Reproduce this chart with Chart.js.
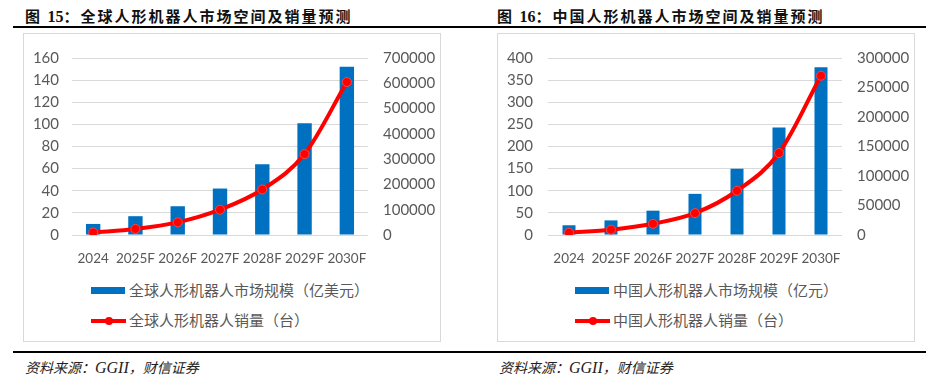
<!DOCTYPE html>
<html>
<head>
<meta charset="utf-8">
<script src="https://cdn.jsdelivr.net/npm/chart.js@4.4.1/dist/chart.umd.min.js"></script>
<style>
  body { margin: 0; width: 935px; height: 384px; background: #fff; position: relative; overflow: hidden;
         font-family: "Noto Sans CJK SC", sans-serif; }
  .title { position: absolute; top: 5px; font-size: 15px; font-weight: 700; color: #111; letter-spacing: 2px; white-space: nowrap; }
  .title b { font-family: "Liberation Serif", serif; font-size: 16px; letter-spacing: 0; }
  .rule { position: absolute; left: 13px; width: 913px; height: 2px; background: #000; }
  .box { position: absolute; top: 33px; width: 416px; height: 307px; border: 1px solid #d9d9d9; }
  .box canvas { position: absolute; left: 0; top: 0; }
  .leg { position: absolute; font-size: 15px; color: #595959; white-space: nowrap; line-height: 18px; }
  .sw-bar { display: inline-block; width: 34px; height: 7px; background: #0070C0; vertical-align: middle; margin-right: 4px; position: relative; top: -1px; }
  .sw-line { display: inline-block; width: 35px; height: 4px; background: #FF0000; vertical-align: middle; margin-right: 3px; position: relative; top: -1px; }
  .sw-line::after { content: ""; position: absolute; left: 14px; top: -2px; width: 8px; height: 8px; border-radius: 50%; background: #FF0000; }
  .src { position: absolute; top: 357px; font-size: 14px; font-style: italic; color: #222; white-space: nowrap; }
  .src i { font-family: "Liberation Serif", serif; font-size: 16px; }
</style>
</head>
<body>
<div class="title" style="left:25px">图 <b>15</b>：全球人形机器人市场空间及销量预测</div>
<div class="title" style="left:497px">图 <b>16</b>：中国人形机器人市场空间及销量预测</div>
<div class="rule" style="top:26px"></div>

<div class="box" style="left:23px">
  <canvas id="c1" width="416" height="240"></canvas>
  <div class="leg" style="left:67px;top:247px"><span class="sw-bar"></span>全球人形机器人市场规模（亿美元）</div>
  <div class="leg" style="left:67px;top:277px"><span class="sw-line"></span>全球人形机器人销量（台）</div>
</div>
<div class="box" style="left:497px">
  <canvas id="c2" width="416" height="240"></canvas>
  <div class="leg" style="left:77px;top:247px"><span class="sw-bar"></span>中国人形机器人市场规模（亿元）</div>
  <div class="leg" style="left:77px;top:277px"><span class="sw-line"></span>中国人形机器人销量（台）</div>
</div>

<div class="rule" style="top:351px"></div>
<div class="src" style="left:25px">资料来源：<i>GGII</i>，财信证券</div>
<div class="src" style="left:499px">资料来源：<i>GGII</i>，财信证券</div>

<script>
const years = ['2024', '2025F', '2026F', '2027F', '2028F', '2029F', '2030F'];

// 全球
const globalMarket = [10, 17, 26, 42, 64, 101, 152];
const globalSales = [10000, 24000, 50000, 100000, 180000, 320000, 605000];

// 中国
const chinaMarket = [22, 33, 55, 93, 150, 243, 379];
const chinaSales = [4000, 9000, 19000, 37000, 75000, 139000, 270000];

const tickFont = { family: 'Lato, "Open Sans", sans-serif', size: 15 };
const xFont = { family: 'Lato, "Open Sans", sans-serif', size: 13.5 };
const tickColor = '#595959';

function fixWidth(w) { return (scale) => { scale.width = w; }; }

function makeChart(id, bars, sales, left, right, dims) {
    return new Chart(document.getElementById(id), {
        type: 'bar',
        data: {
            labels: years,
            datasets: [
                {
                    type: 'line',
                    data: sales,
                    yAxisID: 'y1',
                    borderColor: '#FF0000',
                    borderWidth: 4,
                    tension: 0.4,
                    cubicInterpolationMode: 'monotone',
                    pointRadius: 4.5,
                    pointBackgroundColor: '#FF0000',
                    pointBorderColor: '#FF4545',
                    pointBorderWidth: 1,
                    order: 0,
                },
                {
                    type: 'bar',
                    data: bars,
                    yAxisID: 'y',
                    backgroundColor: '#0070C0',
                    categoryPercentage: 1,
                    barPercentage: dims.bar,
                    order: 1,
                },
            ]
        },
        options: {
            responsive: false,
            animation: false,
            layout: { padding: { top: 18, left: 0, right: 0, bottom: 0 } },
            plugins: { legend: { display: false }, tooltip: { enabled: false } },
            scales: {
                x: {
                    grid: { display: false, drawTicks: false },
                    border: { display: false },
                    ticks: { font: xFont, color: tickColor, padding: 16, maxRotation: 0, autoSkip: false },
                    afterFit: (s) => { s.height = 39; },
                },
                y: {
                    position: 'left',
                    min: 0, max: left.max,
                    ticks: { stepSize: left.step, font: tickFont, color: tickColor, padding: dims.lpad },
                    grid: { color: '#d9d9d9', drawTicks: false },
                    border: { display: false },
                    afterFit: fixWidth(dims.lw),
                },
                y1: {
                    position: 'right',
                    min: 0, max: right.max,
                    ticks: { stepSize: right.step, font: tickFont, color: tickColor, padding: 15,
                             callback: (v) => String(v) },
                    grid: { display: false, drawTicks: false },
                    border: { display: false },
                    afterFit: fixWidth(dims.rw),
                },
            }
        }
    });
}

makeChart('c1', globalMarket, globalSales,
    { max: 160, step: 20 }, { max: 700000, step: 100000 },
    { lw: 48, rw: 72, lpad: 13, bar: 0.34 });
makeChart('c2', chinaMarket, chinaSales,
    { max: 400, step: 50 }, { max: 300000, step: 50000 },
    { lw: 50, rw: 72, lpad: 15, bar: 0.31 });
</script>
</body>
</html>
